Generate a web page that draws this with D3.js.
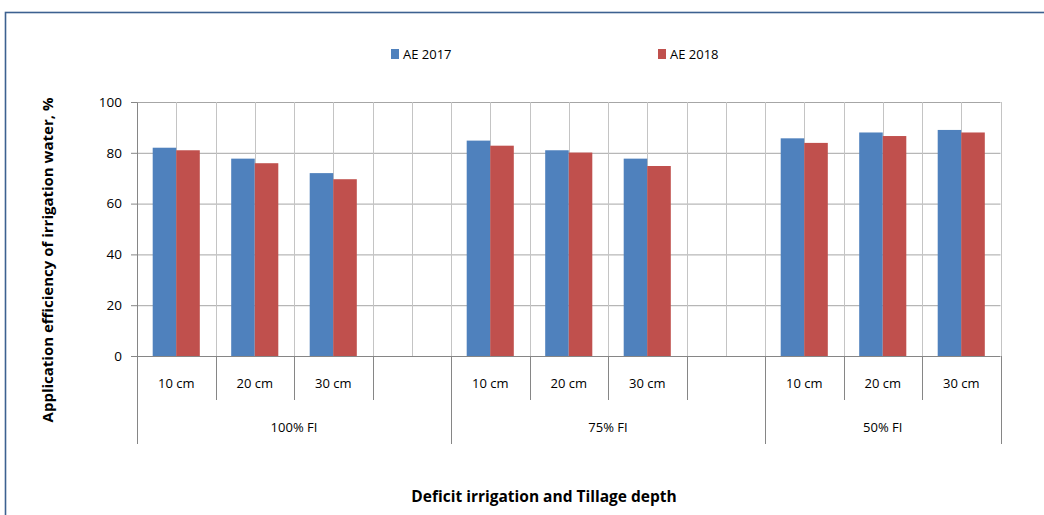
<!DOCTYPE html>
<html>
<head>
<meta charset="utf-8">
<script src="https://cdn.jsdelivr.net/npm/d3@7"></script>
<style>
  body { margin: 0; background: #fff; }
  text { font-family: "Open Sans", "Noto Sans", sans-serif; fill: #000; }
</style>
</head>
<body>
<script>
// slots along the x axis (blank slots separate the irrigation groups)
var slots = ['a1', 'a2', 'a3', 'a4', 'b1', 'b2', 'b3', 'b4', 'c1', 'c2', 'c3'];
var depthLabels = ['10 cm', '20 cm', '30 cm', '', '10 cm', '20 cm', '30 cm', '', '10 cm', '20 cm', '30 cm'];
var groups = ['100% FI', '75% FI', '50% FI'];
var groupSpans = [[0, 3], [4, 7], [8, 10]];
var seriesNames = ['AE 2017', 'AE 2018'];
var seriesColors = ['#4F81BD', '#C0504D'];
var ae2017 = [82, 77.7, 72, null, 84.8, 81, 77.7, null, 85.7, 88, 89];
var ae2018 = [81, 75.9, 69.6, null, 82.8, 80.1, 74.8, null, 83.9, 86.6, 88];
var yTicks = [0, 20, 40, 60, 80, 100];

var width = 1044;
var height = 515;
var plotL = 137, plotR = 1000.5, plotT = 102, plotB = 356;

var svg = d3.select('body').append('svg')
  .attr('width', width)
  .attr('height', height);

// chart frame
svg.append('rect')
  .attr('x', 5.5).attr('y', 12.5)
  .attr('width', 1060).attr('height', 520)
  .attr('fill', 'none')
  .attr('stroke', '#3d6190')
  .attr('stroke-width', 1.6);

var x = d3.scaleBand().domain(slots).range([plotL, plotR]).padding(0);
var bw = x.bandwidth();
var xs = d3.scaleBand().domain(seriesNames).range([bw * 0.2, bw * 0.8]).padding(0);
var y = d3.scaleLinear().domain([0, 100]).range([plotB, plotT]);

// horizontal gridlines
svg.append('g').selectAll('line')
  .data(yTicks.slice(1))
  .enter().append('line')
    .attr('x1', plotL).attr('x2', plotR)
    .attr('y1', function(d) { return y(d) + 0.5; })
    .attr('y2', function(d) { return y(d) + 0.5; })
    .attr('stroke', '#a6a6a6').attr('stroke-width', 1);

// vertical gridlines at slot edges and centres
var vx = [];
slots.forEach(function(s) {
  vx.push(x(s));
  vx.push(x(s) + bw / 2);
});
vx.push(plotR);
svg.append('g').selectAll('line')
  .data(vx)
  .enter().append('line')
    .attr('x1', function(d) { return Math.round(d) + 0.5; })
    .attr('x2', function(d) { return Math.round(d) + 0.5; })
    .attr('y1', plotT).attr('y2', plotB)
    .attr('stroke', '#c4c4c4').attr('stroke-width', 1);

// bars
var rows = slots.map(function(s, i) {
  return { slot: s, values: [ae2017[i], ae2018[i]] };
});
var barG = svg.append('g');
rows.forEach(function(r) {
  r.values.forEach(function(v, j) {
    if (v == null) return;
    barG.append('rect')
      .attr('x', x(r.slot) + xs(seriesNames[j]))
      .attr('y', y(v))
      .attr('width', xs.bandwidth())
      .attr('height', y(0) - y(v))
      .attr('fill', seriesColors[j]);
  });
});

// y axis
var yAxis = svg.append('g')
  .attr('transform', 'translate(' + plotL + ',0)')
  .call(d3.axisLeft(y).tickValues(yTicks).tickSize(6).tickPadding(9));
yAxis.select('.domain').attr('stroke', '#868686');
yAxis.selectAll('.tick line').attr('stroke', '#868686');
yAxis.selectAll('.tick text').style('font-size', '13.5px').attr('fill', '#000');

// x axis line
svg.append('line')
  .attr('x1', plotL - 6).attr('x2', plotR)
  .attr('y1', plotB + 0.5).attr('y2', plotB + 0.5)
  .attr('stroke', '#868686');

// category dividers: short within groups, long between groups
var dividers = [];
slots.forEach(function(s, i) {
  var isGroupStart = groupSpans.some(function(g) { return g[0] === i; });
  dividers.push({ x: x(s), long: isGroupStart });
});
dividers.push({ x: plotR, long: true });
svg.append('g').selectAll('line')
  .data(dividers)
  .enter().append('line')
    .attr('x1', function(d) { return Math.round(d.x) + 0.5; })
    .attr('x2', function(d) { return Math.round(d.x) + 0.5; })
    .attr('y1', plotB)
    .attr('y2', function(d) { return d.long ? 444 : 400; })
    .attr('stroke', '#868686');

// depth labels
svg.append('g').selectAll('text')
  .data(slots)
  .enter().append('text')
    .attr('x', function(s) { return x(s) + bw / 2; })
    .attr('y', 388)
    .attr('text-anchor', 'middle')
    .style('font-size', '13px')
    .text(function(s, i) { return depthLabels[i]; });

// group labels
svg.append('g').selectAll('text')
  .data(groups)
  .enter().append('text')
    .attr('x', function(g, i) {
      var a = x(slots[groupSpans[i][0]]);
      var b = x(slots[groupSpans[i][1]]) + bw;
      return (a + b) / 2;
    })
    .attr('y', 432)
    .attr('text-anchor', 'middle')
    .style('font-size', '13px')
    .text(function(g) { return g; });

// legend
var legendX = [391, 658];
var legend = svg.append('g').selectAll('g')
  .data(seriesNames)
  .enter().append('g')
    .attr('transform', function(d, i) { return 'translate(' + legendX[i] + ',49)'; });
legend.append('rect')
  .attr('width', 8).attr('height', 10)
  .attr('fill', function(d, i) { return seriesColors[i]; });
legend.append('text')
  .attr('x', 12).attr('y', 10)
  .style('font-size', '13px')
  .text(function(d) { return d; });

// axis titles
svg.append('text')
  .attr('transform', 'translate(53,260) rotate(-90)')
  .attr('text-anchor', 'middle')
  .style('font-size', '15px')
  .style('font-weight', 'bold')
  .text('Application efficiency of irrigation water, %');

svg.append('text')
  .attr('x', 544).attr('y', 502)
  .attr('text-anchor', 'middle')
  .style('font-size', '15.5px')
  .style('font-weight', 'bold')
  .text('Deficit irrigation and Tillage depth');
</script>
</body>
</html>
